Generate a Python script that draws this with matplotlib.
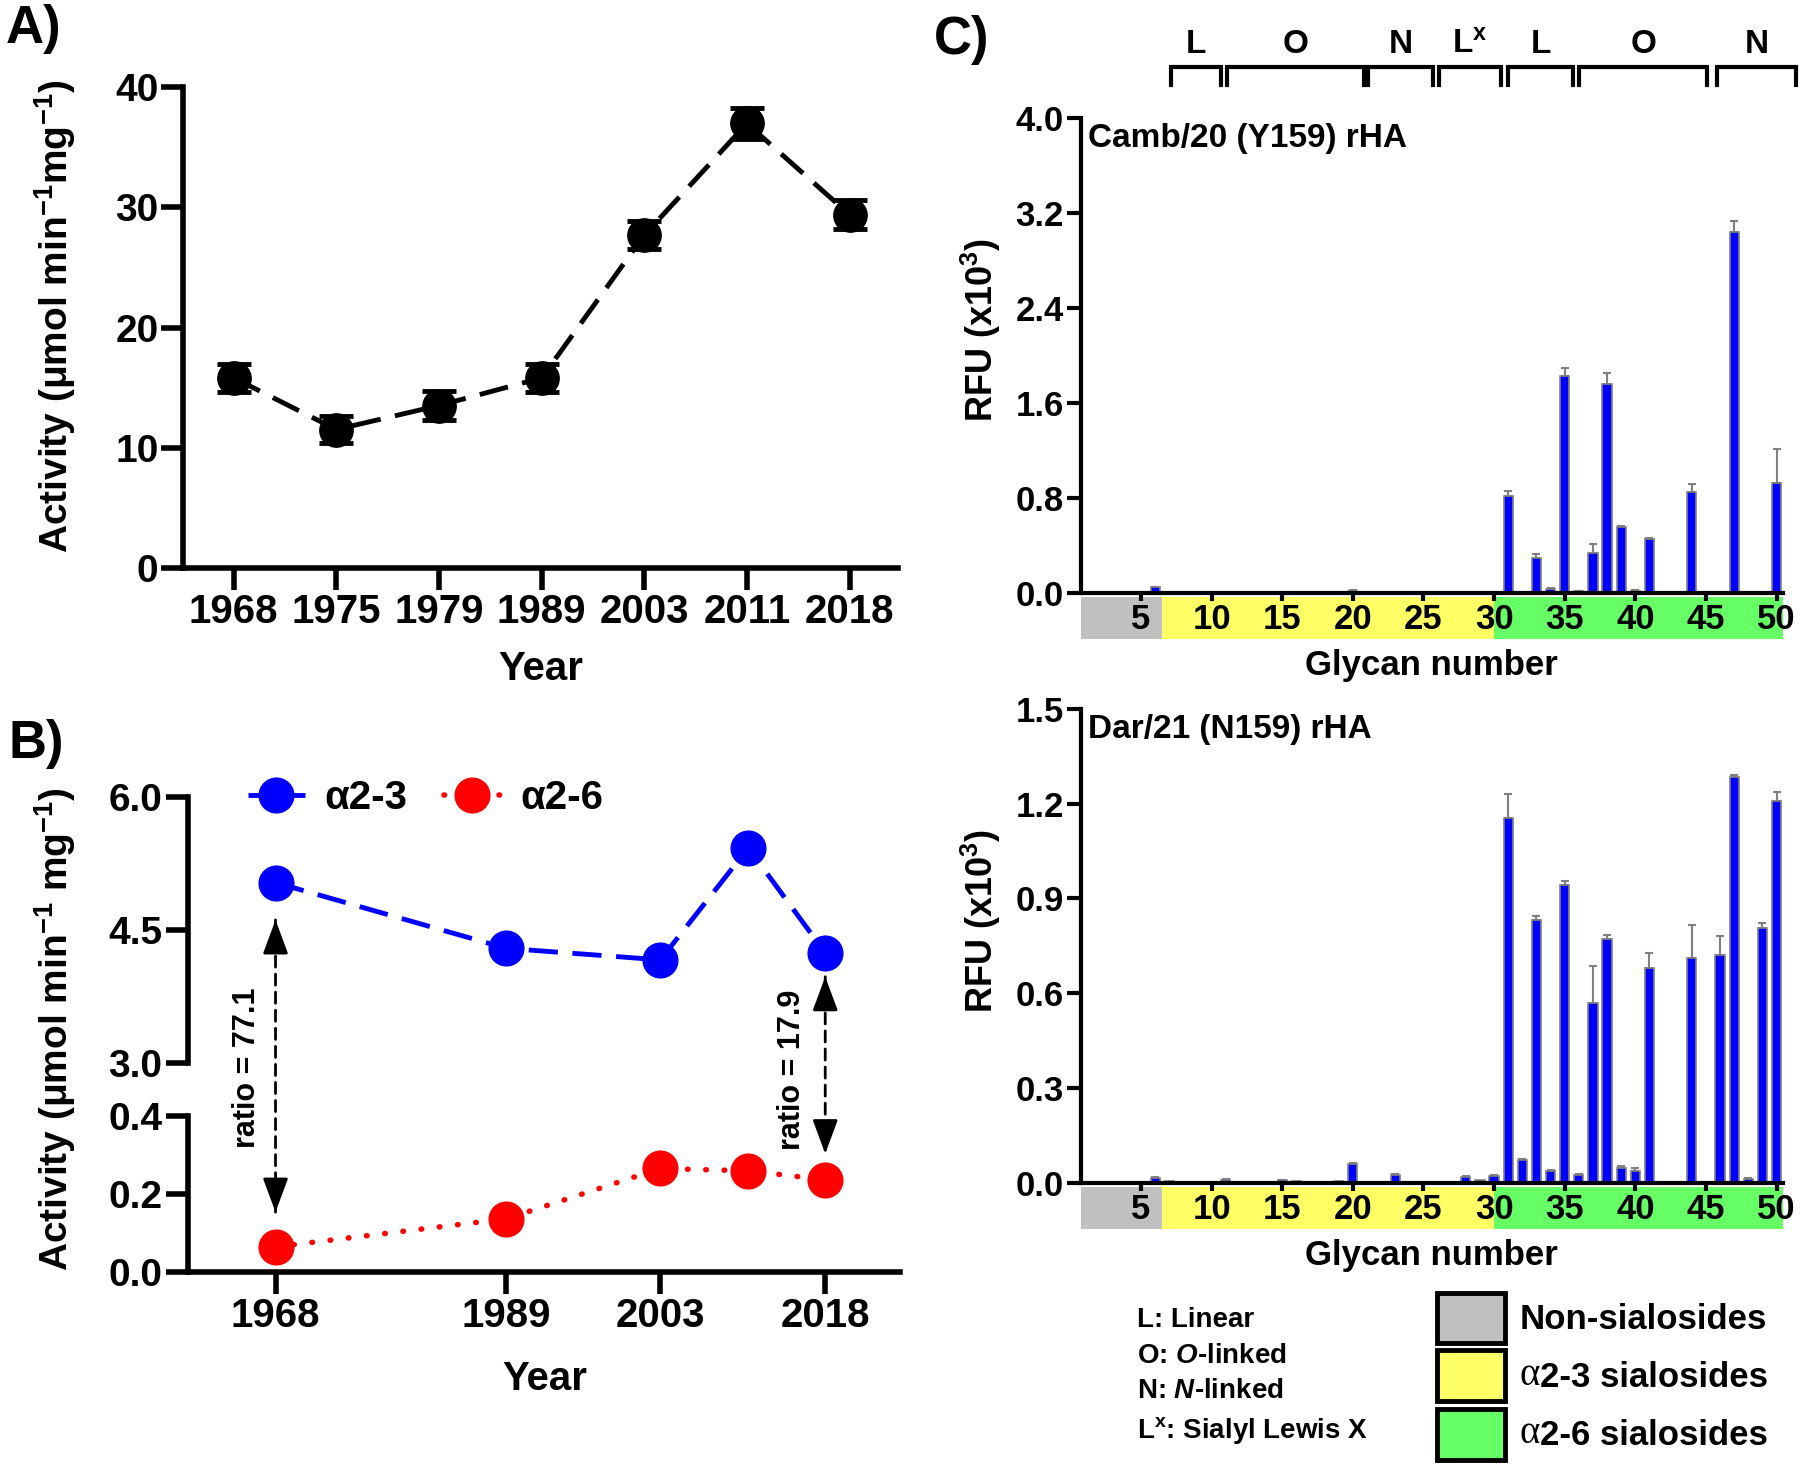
import numpy as np
import matplotlib
matplotlib.use('Agg')
import matplotlib.pyplot as plt
from matplotlib.patches import Rectangle
import matplotlib.transforms as mtransforms

plt.rcParams['font.family'] = ['Liberation Sans', 'DejaVu Sans']
plt.rcParams['font.weight'] = 'bold'
plt.rcParams['axes.labelweight'] = 'bold'
plt.rcParams['mathtext.fontset'] = 'custom'
plt.rcParams['mathtext.rm'] = 'Liberation Sans:bold'
plt.rcParams['mathtext.it'] = 'Liberation Sans:italic:bold'
plt.rcParams['mathtext.bf'] = 'Liberation Sans:bold'
plt.rcParams['mathtext.default'] = 'rm'

# ---- panel A data ----
yearsA = ['1968', '1975', '1979', '1989', '2003', '2011', '2018']
actA = [15.8, 11.5, 13.5, 15.8, 27.7, 37.0, 29.4]
errA = [1.2, 1.1, 1.2, 1.2, 1.2, 1.3, 1.2]

# ---- panel B data ----
yearsB = [1968, 1989, 2003, 2011, 2018]
a23 = [5.03, 4.29, 4.16, 5.42, 4.24]
a26 = [0.064, 0.136, 0.265, 0.259, 0.236]
ratio_years = [1968, 2018]
ratio_top = [4.61, 3.97]
ratio_bot = [0.153, 0.303]
ratio_txt = ['ratio = 77.1', 'ratio = 17.9']

# ---- panel C data (RFU x10^3, glycan 1..50) ----
glycans = np.arange(1, 51)
camb = [0, 0, 0, 0, 0, 0.05, 0, 0, 0.004, 0,
        0.003, 0, 0.012, 0, 0, 0, 0, 0, 0, 0.02,
        0.004, 0, 0, 0.005, 0, 0, 0, 0, 0.003, 0.005,
        0.82, 0.006, 0.30, 0.035, 1.83, 0.018, 0.336, 1.76, 0.555, 0.02,
        0.455, 0, 0, 0.85, 0, 0, 3.04, 0.005, 0.003, 0.93]
camb_err = [0, 0, 0, 0, 0, 0.004, 0, 0, 0, 0,
            0, 0, 0, 0, 0, 0, 0, 0, 0, 0.003,
            0, 0, 0, 0, 0, 0, 0, 0, 0, 0,
            0.04, 0, 0.03, 0.005, 0.06, 0.004, 0.08, 0.09, 0.012, 0.004,
            0.012, 0, 0, 0.07, 0, 0, 0.09, 0, 0, 0.28]
dar = [0.002, 0.002, 0.002, 0, 0, 0.016, 0.005, 0.004, 0, 0,
       0.01, 0, 0.002, 0.004, 0.008, 0.006, 0.003, 0, 0.006, 0.06,
       0, 0.004, 0.025, 0.002, 0, 0, 0.001, 0.02, 0.008, 0.022,
       1.154, 0.072, 0.832, 0.038, 0.944, 0.024, 0.568, 0.772, 0.048, 0.037,
       0.679, 0, 0, 0.712, 0.003, 0.722, 1.285, 0.014, 0.807, 1.207]
dar_err = [0, 0, 0, 0, 0, 0.002, 0, 0, 0, 0,
           0.002, 0, 0, 0, 0.002, 0, 0, 0, 0, 0.003,
           0, 0, 0.003, 0, 0, 0, 0, 0.003, 0, 0.003,
           0.076, 0.003, 0.013, 0.003, 0.012, 0.004, 0.119, 0.013, 0.006, 0.011,
           0.049, 0, 0, 0.105, 0, 0.06, 0.005, 0.003, 0.016, 0.03]

band_start = [0.72, 6.5, 30.0]
band_end = [6.5, 30.0, 50.45]
band_col = ['#c0c0c0', '#ffff66', '#66ff66']

brk_start = [7.1, 11.1, 21.1, 26.1, 31.0, 36.0, 45.8]
brk_end = [10.7, 20.8, 25.7, 30.5, 35.6, 45.1, 51.4]
brk_lab = ['L', 'O', 'N', 'L$^{x}$', 'L', 'O', 'N']

leg_names = ['Non-sialosides', '2-3 sialosides', '2-6 sialosides']
key_lines = ['L: Linear', r'O: $\mathit{O}$-linked', r'N: $\mathit{N}$-linked',
             'L$^{x}$: Sialyl Lewis X']


def style_ax(ax, lw=4, length=16, size=28):
    ax.spines['top'].set_visible(False)
    ax.spines['right'].set_visible(False)
    for s in ['left', 'bottom']:
        ax.spines[s].set_linewidth(lw)
    ax.tick_params(width=lw, length=length, labelsize=size, pad=2)


fig = plt.figure(figsize=(18, 14.65), dpi=100)

# ================= A =================
axA = fig.add_axes([0.1019, 0.6126, 0.3969, 0.3277])
xA = np.arange(len(yearsA))
axA.errorbar(xA, actA, yerr=errA, fmt='none', ecolor='k', elinewidth=3,
             capsize=12, capthick=3.5, zorder=4)
axA.plot(xA, actA, color='k', ls=(0, (6, 3)), lw=3.5, marker='o', ms=24,
         zorder=3, clip_on=False)
axA.set_xlim(-0.49, 6.47)
axA.set_ylim(0, 40)
axA.set_yticks([0, 10, 20, 30, 40])
axA.set_xticks(xA)
axA.set_xticklabels(yearsA)
style_ax(axA)
axA.tick_params(axis='x', labelsize=29)
axA.set_xlabel('Year', fontsize=29)
axA.xaxis.set_label_coords(0.5, -0.2104)
axA.xaxis.label.set_va('center')
axA.set_ylabel('Activity (μmol min$^{-1}$mg$^{-1}$)', fontsize=28)
axA.yaxis.set_label_coords(-0.18, 0.524)
axA.yaxis.label.set_va('center')
fig.text(0.003, 0.980, 'A)', fontsize=38, ha='left', va='center')

# ================= B =================
axBu = fig.add_axes([0.1042, 0.2745, 0.3958, 0.1818])
axBl = fig.add_axes([0.1042, 0.1319, 0.3958, 0.1064])
lb, = axBu.plot(yearsB, a23, color='#0000ff', ls=(0, (6, 3)), lw=3.5,
                marker='o', ms=25, clip_on=False, zorder=3)
lr, = axBl.plot(yearsB, a26, color='#ff0000', ls=(0, (0.1, 3.2)), lw=4,
                dash_capstyle='round', marker='o', ms=25, clip_on=False, zorder=3)
for ax in (axBu, axBl):
    ax.set_xlim(1960, 2024.8)
    style_ax(ax)
axBu.set_ylim(3.0, 6.0)
axBu.set_yticks([3.0, 4.5, 6.0])
axBu.set_yticklabels(['3.0', '4.5', '6.0'])
axBu.spines['bottom'].set_visible(False)
axBu.set_xticks([])
axBu.patch.set_alpha(0)
axBl.patch.set_alpha(0)
axBl.set_ylim(0, 0.4)
axBl.set_yticks([0, 0.2, 0.4])
axBl.set_yticklabels(['0.0', '0.2', '0.4'])
axBl.set_xticks([1968, 1989, 2003, 2018])
axBl.tick_params(axis='x', labelsize=29)
axBl.set_xlabel('Year', fontsize=29)
axBl.xaxis.set_label_coords(0.502, -0.6876)
axBl.xaxis.label.set_va('center')
axBl.set_ylabel('Activity (μmol min$^{-1}$ mg$^{-1}$)', fontsize=28)
axBl.yaxis.set_label_coords(-0.186, 1.56)
axBl.yaxis.label.set_va('center')

axBu.legend([lb, lr], ['α2-3', 'α2-6'], loc='center left',
            bbox_to_anchor=(0.085, 0.995), ncol=2, frameon=False,
            fontsize=29, handlelength=1.4, handletextpad=0.5,
            columnspacing=0.9, borderpad=0, borderaxespad=0)

head = dict(arrowstyle='-|>,head_length=0.7,head_width=0.26', lw=2,
            color='k', mutation_scale=30, shrinkA=0, shrinkB=0)
for i in range(len(ratio_years)):
    # dashed shaft spanning the axis break
    axBl.annotate('', xy=(ratio_years[i], ratio_bot[i]), xycoords='data',
                  xytext=(ratio_years[i], ratio_top[i]),
                  textcoords=axBu.transData, annotation_clip=False,
                  arrowprops=dict(arrowstyle='-', ls=(0, (4, 2.5)), lw=2,
                                  color='k', shrinkA=0, shrinkB=0))
    # solid heads at both ends
    axBu.annotate('', xy=(ratio_years[i], ratio_top[i]), xycoords='data',
                  xytext=(0, -22), textcoords='offset points',
                  annotation_clip=False, arrowprops=head)
    axBl.annotate('', xy=(ratio_years[i], ratio_bot[i]), xycoords='data',
                  xytext=(0, 22), textcoords='offset points',
                  annotation_clip=False, arrowprops=head)
axBu.text(1965.4, 2.95, ratio_txt[0], rotation=90, fontsize=22, weight='bold',
          ha='center', va='center', clip_on=False)
axBu.text(2015.0, 2.92, ratio_txt[1], rotation=90, fontsize=22, weight='bold',
          ha='center', va='center', clip_on=False)
fig.text(0.005, 0.4922, 'B)', fontsize=38, ha='left', va='center')


# ================= C =================
def draw_glycan(ax, vals, errs, ymax, step, title):
    vals = np.array(vals)
    errs = np.array(errs)
    ax.bar(glycans, vals, width=0.65, color='#0000ff', edgecolor='#808080',
           linewidth=1.2, zorder=2)
    m = errs > 0
    ax.errorbar(glycans[m], vals[m], yerr=[np.zeros(m.sum()), errs[m]],
                fmt='none', ecolor='#808080', elinewidth=1.5, capsize=3,
                capthick=1.5, zorder=1)
    ax.set_xlim(0.72, 50.45)
    ax.set_ylim(0, ymax)
    ticks = np.arange(0, ymax + step / 2, step)
    ax.set_yticks(ticks)
    ax.set_yticklabels(['%.1f' % t for t in ticks])
    ax.set_xticks(np.arange(5, 51, 5))
    style_ax(ax, lw=3, length=10, size=25)
    ax.tick_params(axis='x', length=6, pad=1)
    tr = mtransforms.blended_transform_factory(ax.transData, ax.transAxes)
    for s, e, c in zip(band_start, band_end, band_col):
        ax.add_patch(Rectangle((s, -0.097), e - s, 0.089, transform=tr,
                               facecolor=c, edgecolor='none', clip_on=False,
                               zorder=0))
    ax.set_xlabel('Glycan number', fontsize=25)
    ax.xaxis.set_label_coords(0.5, -0.152)
    ax.xaxis.label.set_va('center')
    ax.set_ylabel('RFU (x10$^{3}$)', fontsize=26)
    ax.yaxis.set_label_coords(-0.142, 0.553)
    ax.yaxis.label.set_va('center')
    ax.text(0.01, 0.956, title, transform=ax.transAxes, fontsize=24,
            ha='left', va='center')
    return tr


axC1 = fig.add_axes([0.6003, 0.5951, 0.3902, 0.3246])
axC2 = fig.add_axes([0.6003, 0.1925, 0.3902, 0.3237])
tr1 = draw_glycan(axC1, camb, camb_err, 4.0, 0.8, 'Camb/20 (Y159) rHA')
draw_glycan(axC2, dar, dar_err, 1.5, 0.3, 'Dar/21 (N159) rHA')

for s, e, lab in zip(brk_start, brk_end, brk_lab):
    axC1.plot([s, s, e, e], [1.068, 1.106, 1.106, 1.068], transform=tr1,
              color='k', lw=3, clip_on=False, solid_joinstyle='miter')
    axC1.text((s + e) / 2, 1.153, lab, transform=tr1, fontsize=24,
              ha='center', va='center')

fig.text(0.519, 0.9727, 'C)', fontsize=38, ha='left', va='center')

# key text
key_y = [0.099, 0.0744, 0.0502, 0.0234]
for t, y in zip(key_lines, key_y):
    fig.text(0.6314, y, t, fontsize=20, ha='left', va='center')

# colour legend boxes
box_bottom = [0.083, 0.0435, 0.0034]
box_h = [0.0344, 0.0352, 0.0351]
lab_y = [0.0996, 0.0609, 0.0218]
for i in range(3):
    fig.add_artist(Rectangle((0.7981, box_bottom[i]), 0.0378, box_h[i],
                             transform=fig.transFigure, facecolor=band_col[i],
                             edgecolor='k', lw=3.5))
fig.text(0.8444, lab_y[0], leg_names[0], fontsize=25, ha='left', va='center')
for i in (1, 2):
    ta = fig.text(0.8444, lab_y[i], 'α', fontsize=28, family=['Liberation Serif'],
                  weight='normal', ha='left', va='center')
    axC2.annotate(leg_names[i], xy=(1, 0), xycoords=ta, fontsize=25,
                  ha='left', va='bottom', annotation_clip=False)

fig.savefig('out.png', dpi=100)
